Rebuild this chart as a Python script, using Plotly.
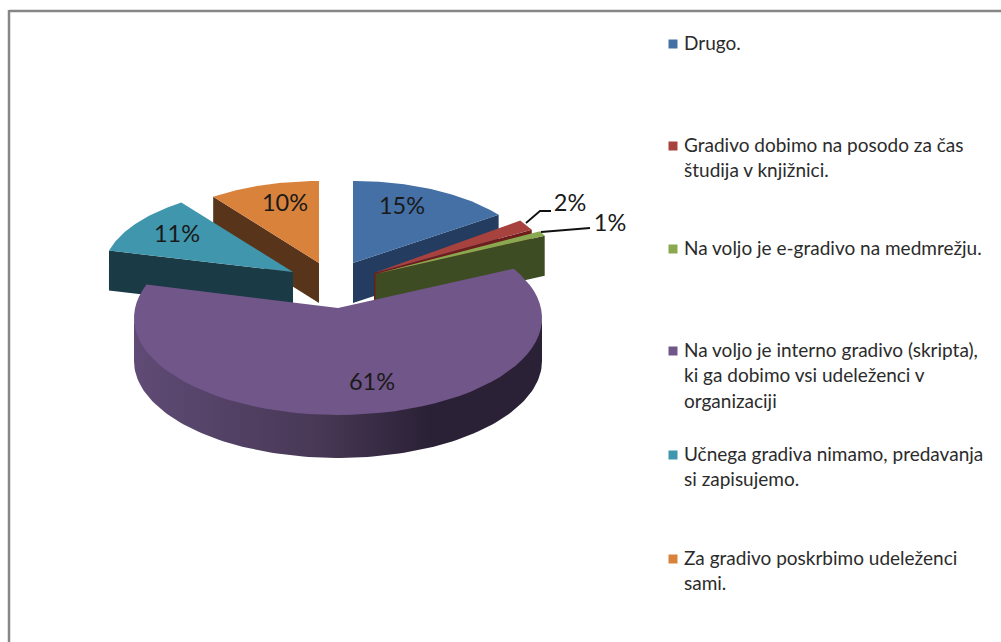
import numpy as np
import plotly.graph_objects as go

categories = ["Drugo.", "Gradivo dobimo na posodo za čas študija v knjižnici.",
              "Na voljo je e-gradivo na medmrežju.",
              "Na voljo je interno gradivo (skripta), ki ga dobimo vsi udeleženci v organizaciji",
              "Učnega gradiva nimamo, predavanja si zapisujemo.",
              "Za gradivo poskrbimo udeleženci sami."]
values = [15, 2, 1, 61, 11, 10]
top_colors = ["#4470a5", "#a8423f", "#8aa84f", "#715689", "#3f96ad", "#d8823c"]
side_colors = ["#243c5f", "#6d1e1c", "#3d4c22", "#2b2136", "#1a3a45", "#58341a"]

legend_lines = [["Drugo."],
                ["Gradivo dobimo na posodo za čas", "študija v knjižnici."],
                ["Na voljo je e-gradivo na medmrežju."],
                ["Na voljo je interno gradivo (skripta),", "ki ga dobimo vsi udeleženci v", "organizaciji"],
                ["Učnega gradiva nimamo, predavanja", "si zapisujemo."],
                ["Za gradivo poskrbimo udeleženci", "sami."]]
legend_y = [45, 147, 250, 352, 456, 560]
line_pitch = 25.5

# Pie geometry, in page pixels: apex of each exploded slice and its rim ellipse
apex = [(353, 263), (374, 273), (375.5, 274), (338, 308), (293, 272), (319, 263)]
radius = [(180, 82), (180, 90), (187, 90), (204, 97), (190, 86), (180, 82)]
rim_drop = [0, 0, 0, 10, 0, 0]  # ellipse centre below the apex (perspective)
depth = 40
front_depth = 43
label_pos = [(402, 208), (570, 205), (610, 225), (372, 384), (177, 236), (285, 205)]
label_size = 23.5
font = "Lato, 'Open Sans', sans-serif"


def rim_point(theta, i):
    # ray from the apex to the rim, theta clockwise from the top
    a, b = radius[i]
    s = rim_drop[i] / b
    dx, dy = np.sin(theta), np.cos(theta)
    t = -s * dy + np.sqrt((s * dy) ** 2 + 1 - s * s)
    return apex[i][0] + a * t * dx, apex[i][1] + rim_drop[i] - b * (s + t * dy)


def add_poly(fig, xs, ys, color, **kw):
    fig.add_trace(go.Scatter(x=xs, y=ys, mode="lines", fill="toself", fillcolor=color,
                             line=dict(width=0), hoverinfo="skip", showlegend=False, **kw))


def add_slice(fig, i, start, end):
    thetas = np.linspace(start, end, 60)
    pts = [rim_point(t, i) for t in thetas]
    xs = [apex[i][0]] + [p[0] for p in pts]
    ys = [apex[i][1]] + [p[1] for p in pts]
    add_poly(fig, xs, ys, top_colors[i])


def add_cut_face(fig, i, theta):
    # flat face between the apex and the rim at angle theta
    x, y = rim_point(theta, i)
    ax, ay = apex[i]
    add_poly(fig, [ax, x, x, ax], [ay, y, y + depth, ay + depth], side_colors[i])


fractions = np.array(values) / sum(values)
edges = np.concatenate([[0], np.cumsum(fractions)]) * 2 * np.pi

fig = go.Figure()

# back to front: orange, teal, blue, red, green, purple
add_cut_face(fig, 5, edges[5])
add_slice(fig, 5, edges[5], edges[6])
add_cut_face(fig, 4, edges[4])
add_slice(fig, 4, edges[4], edges[5])
add_cut_face(fig, 0, edges[1])
add_slice(fig, 0, edges[0], edges[1])
add_cut_face(fig, 1, edges[2])
add_slice(fig, 1, edges[1], edges[2])
add_cut_face(fig, 2, edges[3])
add_slice(fig, 2, edges[2], edges[3])

# purple outer wall with its gradient; its top edge runs under the top face
a, b = radius[3]
cx, cy = apex[3][0], apex[3][1] + rim_drop[3]
arc = np.linspace(np.pi, 0, 120)
wall_x = np.concatenate([cx + a * np.cos(arc), cx + a * np.cos(arc[::-1])])
wall_y = np.concatenate([cy - 3 + b * np.sin(arc), cy + front_depth + b * np.sin(arc[::-1])])
fig.add_trace(go.Scatter(
    x=wall_x, y=wall_y, mode="lines", fill="toself", line=dict(width=0),
    fillgradient=dict(type="horizontal",
                      colorscale=[[0, "#5f4b75"], [0.45, "#483856"], [0.72, "#2b2136"], [1, "#2b2136"]]),
    hoverinfo="skip", showlegend=False))
add_slice(fig, 3, edges[3], edges[4])

# leader lines for the two small slices
fig.add_trace(go.Scatter(x=[526, 540, 551], y=[223, 211, 211], mode="lines",
                         line=dict(color="#111111", width=1.8), hoverinfo="skip", showlegend=False))
fig.add_trace(go.Scatter(x=[541, 590], y=[232, 228], mode="lines",
                         line=dict(color="#111111", width=1.8), hoverinfo="skip", showlegend=False))

# data labels
fig.add_trace(go.Scatter(
    x=[p[0] for p in label_pos], y=[p[1] for p in label_pos], mode="text",
    text=[f"{v}%" for v in values], textposition="middle center",
    textfont=dict(family=font, size=label_size, color="#1a1a1a"),
    hoverinfo="skip", showlegend=False))

# legend, drawn by hand because the line spacing is wider than plotly's own
fig.add_trace(go.Scatter(
    x=[673] * len(legend_y), y=[y - 1 for y in legend_y], mode="markers",
    marker=dict(symbol="square", size=9, color=top_colors),
    hovertext=categories, hoverinfo="text", showlegend=False))
text_x, text_y, text_s = [], [], []
for y0, lines in zip(legend_y, legend_lines):
    for j, line in enumerate(lines):
        text_x.append(684)
        text_y.append(y0 + j * line_pitch)
        text_s.append(line)
fig.add_trace(go.Scatter(
    x=text_x, y=text_y, mode="text", text=text_s, textposition="middle right",
    textfont=dict(family=font, size=19, color="#2b2b2b"),
    hoverinfo="skip", showlegend=False))

# chart frame
fig.add_shape(type="line", x0=9, x1=1001, y0=11, y1=11, line=dict(color="#868686", width=2.5))
fig.add_shape(type="line", x0=9, x1=9, y0=10, y1=642, line=dict(color="#868686", width=2.5))

fig.update_layout(
    width=1001, height=642, margin=dict(l=0, r=0, t=0, b=0),
    paper_bgcolor="white", plot_bgcolor="white",
    xaxis=dict(range=[0, 1001], visible=False, fixedrange=True),
    yaxis=dict(range=[642, 0], visible=False, fixedrange=True),
)

fig.write_html("out.html", config=dict(displayModeBar=False),
               post_script="document.body.style.margin='0';")
